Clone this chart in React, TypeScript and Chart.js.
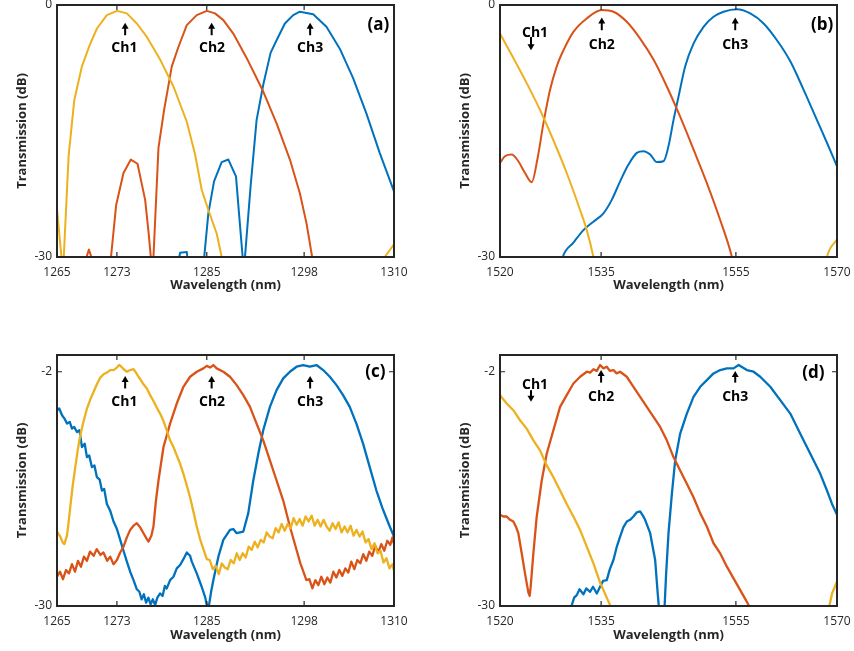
import React, { useEffect, useRef } from "react";
import { Chart, registerables } from "chart.js";

Chart.register(...registerables);

const FONT = "'Open Sans', 'Liberation Sans', Arial, sans-serif";
const YELLOW = "#EDB120";
const RED = "#D95319";
const BLUE = "#0072BD";
const INK = "#262626";

// ---------- Panel (a): O-band, simulated ----------
const aTicksX = [1265, 1273, 1285, 1298, 1310];
const aTicksY = [-30, 0];
const aCh1Wl = [1265.0, 1265.7, 1265.85, 1266.55, 1267.31, 1268.33, 1269.35, 1270.33, 1271.66, 1273.0, 1274.33, 1275.66, 1277.0, 1278.77, 1280.55, 1282.33, 1283.44, 1284.32, 1285.21, 1286.32, 1286.99, 1287.3, 1298, 1308.5, 1308.76, 1310];
const aCh1Db = [-24.3, -31, -31, -18, -11.3, -7.3, -4.8, -2.8, -1.2, -0.7, -1.0, -2.2, -3.8, -6.5, -9.7, -13.9, -17.8, -22, -24.4, -27.2, -30, -31.5, null, -31.5, -30, -28.5];
const aCh2Wl = [1268.6, 1269.26, 1269.95, 1271, 1272.1, 1272.9, 1273.88, 1274.86, 1275.75, 1276.77, 1277.22, 1277.53, 1277.7, 1277.88, 1278.55, 1279.3, 1280.33, 1281.21, 1282.33, 1283.66, 1285.0, 1286.1, 1287.21, 1288.54, 1290.32, 1292.54, 1294.32, 1296.1, 1297.43, 1298.32, 1299.07, 1299.3];
const aCh2Db = [-31, -29.1, -31, null, -31, -23.8, -20, -18.4, -18.9, -23.2, -27, -30, -32, -30, -17, -12.5, -7.3, -5, -2.4, -1.2, -0.7, -1.0, -1.8, -3.4, -6.3, -10.3, -14.1, -18.4, -22.4, -26, -30, -31.5];
const aCh3Wl = [1281.1, 1281.44, 1282.33, 1282.5, 1283.5, 1284.55, 1285.21, 1285.97, 1286.99, 1287.88, 1288.9, 1289.34, 1289.79, 1289.95, 1290.1, 1290.85, 1291.65, 1292.54, 1293.52, 1294.32, 1295.43, 1296.54, 1297.43, 1299.21, 1300.98, 1302.76, 1304.54, 1306.31, 1308.09, 1310];
const aCh3Db = [-31, -29.5, -29.4, -31, null, -31, -24.8, -21, -18.7, -18.4, -20.4, -25.2, -30, -32, -30, -21.6, -13.7, -9.5, -5.7, -4.2, -2.2, -1.2, -0.8, -1.1, -2.6, -5.2, -8.7, -12.9, -17.6, -22.2];
const aArrowWl = [1274.1, 1285.65, 1298.8];
const aArrowTip = [-2.1, -2.1, -2.1];
const aArrowTail = [-3.6, -3.6, -3.6];
const aTextWl = [1274.0, 1285.7, 1298.8];
const aTextDb = [-5.1, -5.1, -5.1];

// ---------- Panel (b): C-band, simulated ----------
const bTicksX = [1520, 1535, 1555, 1570];
const bTicksY = [-30, 0];
const bCh1Wl = [1520, 1521.98, 1523.96, 1525.94, 1527.92, 1529.9, 1531.88, 1532.87, 1533.86, 1534.2, 1550, 1568.2, 1568.51, 1570];
const bCh1Db = [-3.4, -6.3, -9.3, -12.5, -16.1, -20, -24.4, -26.8, -30, -31.5, null, -31.5, -30, -27.9];
const bCh2Wl = [1520, 1520.74, 1521.73, 1522.72, 1523.71, 1524.7, 1525.54, 1526.44, 1527.43, 1528.42, 1529.41, 1530.89, 1532.87, 1535.1, 1536.83, 1538.81, 1540.79, 1542.77, 1544.75, 1546.73, 1548.71, 1550.69, 1552.67, 1554.41, 1554.8];
const bCh2Db = [-18.8, -18.0, -17.8, -18.6, -20.0, -21.1, -18.4, -14.1, -10.1, -7.3, -5.4, -3.2, -1.6, -0.6, -0.8, -2.0, -4.0, -6.5, -9.7, -13.3, -17.2, -21.2, -25.6, -30, -31.5];
const bCh3Wl = [1528.9, 1529.31, 1530.89, 1532.38, 1533.86, 1535.35, 1536.58, 1537.82, 1539.06, 1540.3, 1541.29, 1542.28, 1543.27, 1544.26, 1545.0, 1545.74, 1546.49, 1547.48, 1548.71, 1550.2, 1551.68, 1553.17, 1555.15, 1557.13, 1559.11, 1561.09, 1563.07, 1565.05, 1567.03, 1568.51, 1570];
const bCh3Db = [-31.5, -30, -28.3, -26.8, -25.8, -24.8, -23.2, -21, -19, -17.6, -17.4, -17.8, -18.7, -18.6, -16.8, -13.7, -10.9, -7.3, -4.6, -2.6, -1.4, -0.8, -0.5, -1.0, -2.2, -4.2, -6.7, -10.1, -13.7, -16.4, -19.2];
const bArrowWl = [1524.6, 1535.1, 1554.9];
const bArrowTip = [-5.4, -1.5, -1.5];
const bArrowTail = [-3.8, -3.0, -3.0];
const bTextWl = [1525.2, 1535.1, 1554.9];
const bTextDb = [-3.3, -4.8, -4.8];

// ---------- Panel (c): O-band, measured ----------
const cTicksX = [1265, 1273, 1285, 1298, 1310];
const cTicksY = [-30, -2];
const cCh1Wl = [1265.0, 1265.44, 1265.75, 1265.98, 1266.15, 1266.33, 1266.55, 1266.78, 1267.1, 1267.44, 1267.8, 1268.11, 1268.5, 1269.0, 1269.45, 1269.89, 1270.33, 1270.78, 1271.22, 1271.66, 1272.1, 1272.55, 1273.0, 1273.3, 1273.6, 1273.9, 1274.33, 1274.77, 1275.22, 1275.55, 1275.88, 1276.2, 1276.55, 1277.0, 1277.44, 1277.88, 1278.33, 1278.77, 1279.22, 1279.66, 1280.1, 1280.55, 1280.99, 1281.44, 1281.88, 1282.33, 1282.77, 1283.21, 1283.66, 1284.1, 1284.55, 1285.0,
  1285.4, 1285.8, 1286.2, 1286.6, 1287.0, 1287.4, 1287.8, 1288.2, 1288.6, 1289.0, 1289.4, 1289.8, 1290.2, 1290.6, 1291.0, 1291.4, 1291.8, 1292.2, 1292.6, 1293.0, 1293.4, 1293.8, 1294.2, 1294.6, 1295.0, 1295.4, 1295.8, 1296.2, 1296.6, 1297.0, 1297.4, 1297.8, 1298.2, 1298.6, 1299.0, 1299.4, 1299.8, 1300.2, 1300.6, 1301.0, 1301.4, 1301.8, 1302.2, 1302.6, 1303.0, 1303.4, 1303.8, 1304.2, 1304.6, 1305.0, 1305.4, 1305.8, 1306.2, 1306.6, 1307.0, 1307.4, 1307.8, 1308.2, 1308.6, 1309.0, 1309.4, 1309.8, 1310.0];
const cCh1Db = [-21.1, -21.7, -22.4, -22.6, -22.1, -21.6, -20.0, -18.1, -15.6, -13.4, -11.2, -9.6, -8.1, -6.4, -5.3, -4.4, -3.5, -2.7, -2.3, -2.1, -1.8, -1.8, -1.5, -1.2, -1.4, -1.7, -2.0, -1.8, -1.7, -2.1, -2.6, -3.0, -3.5, -4.0, -4.8, -5.5, -6.3, -7.0, -7.9, -9.0, -10.2, -11.0, -12.0, -13.0, -14.2, -15.6, -17.0, -18.7, -20.5, -22.0, -23.2, -24.4,
  -24.5, -25.6, -25.2, -26.2, -24.9, -25.4, -25.6, -24.5, -24.9, -23.7, -24.5, -23.7, -24.2, -22.9, -23.3, -22.3, -23.0, -22.1, -22.4, -21.2, -21.7, -21.9, -20.7, -21.2, -20.2, -21.0, -20.2, -20.7, -19.5, -20.3, -19.6, -20.4, -19.3, -19.9, -19.2, -20.4, -19.7, -20.5, -19.7, -20.5, -21.0, -20.1, -20.8, -20.0, -21.2, -20.5, -21.2, -20.4, -21.6, -20.9, -21.7, -21.1, -22.4, -22.0, -23.2, -22.5, -23.7, -23.4, -24.8, -24.3, -25.5, -25.0, -25.8];
const cCh2Wl = [1265.0, 1265.4, 1265.8, 1266.2, 1266.6, 1267.0, 1267.4, 1267.8, 1268.2, 1268.6, 1269.0, 1269.4, 1269.9, 1270.3, 1270.8, 1271.2, 1271.7, 1272.1, 1272.55, 1273.0, 1273.44, 1273.88, 1274.33, 1274.77, 1275.22, 1275.66, 1276.11, 1276.55, 1277.0, 1277.22, 1277.6, 1277.88, 1278.2, 1278.55, 1279.22, 1280.1, 1280.99, 1281.88, 1282.77, 1283.66, 1284.55, 1285.0, 1285.44, 1285.88, 1286.32, 1287.21, 1288.1, 1288.99, 1289.88, 1290.77, 1291.65, 1292.54, 1293.43, 1294.32, 1295.21, 1296.1, 1296.99, 1297.5,
  1297.9, 1298.3, 1298.7, 1299.1, 1299.5, 1299.9, 1300.3, 1300.7, 1301.1, 1301.5, 1301.9, 1302.3, 1302.7, 1303.1, 1303.5, 1303.9, 1304.3, 1304.7, 1305.1, 1305.5, 1305.9, 1306.3, 1306.7, 1307.1, 1307.5, 1307.9, 1308.3, 1308.7, 1309.1, 1309.5, 1309.8, 1310.0];
const cCh2Db = [-26.5, -25.9, -26.8, -25.7, -26.1, -25.0, -25.9, -24.6, -25.3, -24.1, -24.6, -23.5, -24.0, -23.2, -23.9, -23.6, -24.6, -24.1, -25.0, -24.5, -23.6, -22.9, -21.8, -20.9, -20.4, -20.1, -20.6, -21.3, -22.0, -22.3, -21.6, -20.5, -17.5, -15.0, -11.0, -8.2, -5.8, -3.8, -2.6, -2.0, -1.6, -1.3, -1.5, -1.2, -1.6, -2.0, -2.6, -3.6, -4.8, -6.2, -8.2, -10.2, -12.6, -15.0, -17.4, -20.5, -23.3, -24.9,
  -25.9, -26.9, -26.8, -27.9, -26.9, -27.5, -26.5, -27.4, -26.6, -27.2, -25.9, -26.6, -25.7, -26.4, -25.5, -26.0, -24.7, -25.6, -24.5, -24.9, -23.8, -24.6, -23.5, -24.0, -22.8, -23.6, -22.6, -23.4, -22.2, -22.7, -21.8, -22.6];
const cCh3Wl = [1265.0, 1265.3, 1265.67, 1266.0, 1266.33, 1266.7, 1267.0, 1267.3, 1267.67, 1268.0, 1268.33, 1268.7, 1269.0, 1269.3, 1269.66, 1270.0, 1270.33, 1270.7, 1271.0, 1271.3, 1271.66, 1272.1, 1272.55, 1273.0, 1273.44, 1273.88, 1274.33, 1274.77, 1275.22, 1275.66, 1276.0, 1276.3, 1276.6, 1276.9, 1277.2, 1277.5, 1277.8, 1278.1, 1278.4, 1278.77, 1279.1, 1279.4, 1279.66, 1280.1, 1280.55, 1280.99, 1281.44, 1281.88, 1282.33, 1282.77, 1283.0, 1283.66, 1284.32, 1284.8, 1285.0, 1285.3, 1285.6, 1285.88, 1286.55, 1287.21, 1288.1, 1288.54, 1288.99, 1289.88, 1290.54, 1291.21, 1291.88, 1292.54, 1293.43, 1294.32, 1295.21, 1296.1, 1296.99, 1297.87, 1298.76, 1299.65, 1300.54, 1301.43, 1302.32, 1303.2, 1304.09, 1304.98, 1305.87, 1306.76, 1307.65, 1308.54, 1309.43, 1310.0];
const cCh3Db = [-6.6, -6.4, -7.2, -7.6, -8.2, -8.0, -8.8, -8.6, -9.2, -9.0, -11.0, -10.6, -12.2, -12.0, -13.4, -13.2, -14.6, -14.9, -16.2, -16.0, -17.8, -18.6, -19.9, -20.8, -22.1, -23.4, -24.7, -25.9, -26.9, -28.0, -28.3, -29.2, -28.6, -29.6, -29.0, -29.8, -29.2, -29.9, -29.0, -28.5, -28.8, -27.6, -27.9, -26.9, -26.5, -25.5, -25.1, -24.4, -23.6, -24.0, -24.7, -26.1, -27.7, -29.0, -29.9, -29.9, -28.2, -26.9, -24.1, -22.1, -20.9, -20.8, -21.3, -21.1, -18.9, -15.0, -11.8, -9.0, -6.2, -4.2, -2.8, -2.0, -1.4, -1.2, -1.4, -1.2, -1.8, -2.6, -3.6, -4.8, -6.2, -8.2, -10.6, -13.4, -16.2, -18.5, -20.5, -21.7];
const cArrowWl = [1274.1, 1285.65, 1298.8];
const cArrowTip = [-2.5, -2.5, -2.5];
const cArrowTail = [-4.0, -4.0, -4.0];
const cTextWl = [1274.0, 1285.7, 1298.8];
const cTextDb = [-5.6, -5.6, -5.6];

// ---------- Panel (d): C-band, measured ----------
const dTicksX = [1520, 1535, 1555, 1570];
const dTicksY = [-30, -2];
const dCh1Wl = [1520.0, 1520.99, 1521.98, 1522.97, 1523.96, 1524.95, 1525.94, 1526.93, 1527.92, 1528.91, 1529.9, 1530.89, 1531.88, 1532.87, 1533.86, 1534.85, 1535.84, 1536.6, 1550, 1568.76, 1569.26, 1570.0];
const dCh1Db = [-4.8, -5.8, -6.6, -7.8, -8.8, -10.2, -11.4, -13.2, -14.6, -16.2, -17.8, -19.3, -20.9, -22.9, -24.9, -27.2, -29.0, -30.4, null, -30.4, -28.5, -27.1];
const dCh2Wl = [1520.0, 1520.5, 1520.99, 1521.5, 1521.98, 1522.4, 1522.72, 1523.22, 1523.71, 1524.21, 1524.4, 1524.55, 1524.95, 1525.45, 1526.19, 1526.93, 1527.92, 1528.91, 1529.9, 1530.89, 1531.88, 1532.87, 1533.37, 1533.86, 1534.36, 1534.85, 1535.35, 1535.84, 1536.3, 1536.83, 1537.3, 1537.82, 1538.81, 1539.8, 1540.79, 1541.78, 1542.77, 1543.76, 1544.75, 1545.74, 1546.73, 1547.72, 1548.71, 1549.7, 1550.69, 1551.68, 1552.67, 1553.66, 1554.65, 1555.64, 1556.63, 1557.13];
const dCh2Db = [-19.1, -19.3, -19.3, -19.7, -19.9, -20.6, -21.3, -23.7, -26.1, -28.4, -28.8, -27.7, -23.7, -19.3, -15.0, -11.8, -9.0, -6.2, -4.8, -3.4, -2.6, -2.0, -2.1, -1.7, -1.9, -1.2, -1.6, -1.4, -1.9, -1.8, -2.2, -2.0, -2.6, -3.8, -5.0, -6.2, -7.4, -8.6, -10.2, -12.2, -13.8, -15.4, -17.0, -18.9, -20.5, -22.5, -23.7, -25.3, -26.7, -28.1, -29.5, -30.3];
const dCh3Wl = [1530.5, 1531.0, 1531.39, 1531.8, 1532.38, 1532.8, 1533.37, 1533.8, 1534.36, 1534.85, 1535.3, 1535.84, 1536.3, 1536.83, 1537.3, 1537.82, 1538.3, 1538.81, 1539.3, 1539.8, 1540.3, 1540.79, 1541.2, 1541.53, 1542.28, 1543.02, 1543.4, 1543.6, 1544.0, 1544.4, 1544.65, 1545.0, 1545.5, 1545.99, 1546.73, 1547.72, 1548.71, 1549.7, 1550.69, 1551.68, 1552.67, 1553.66, 1554.65, 1555.4, 1556.63, 1557.62, 1558.61, 1560.1, 1561.58, 1563.07, 1564.55, 1566.04, 1567.52, 1568.51, 1569.26, 1570.0];
const dCh3Db = [-30.3, -29.0, -28.7, -28.0, -28.6, -27.9, -28.3, -27.7, -28.5, -27.7, -27.0, -26.9, -25.6, -24.5, -23.0, -21.7, -20.6, -19.9, -19.7, -19.3, -18.8, -18.7, -19.2, -19.7, -21.3, -24.5, -28.5, -30.4, null, -30.4, -26.1, -21.3, -16.6, -12.6, -9.4, -7.0, -5.0, -3.8, -3.0, -2.2, -1.8, -1.6, -1.6, -1.2, -1.8, -2.0, -2.6, -3.8, -5.4, -7.0, -9.4, -11.8, -14.2, -16.2, -17.8, -19.1];
const dArrowWl = [1524.6, 1535.0, 1554.9];
const dArrowTip = [-5.6, -1.8, -1.9];
const dArrowTail = [-4.2, -3.3, -3.3];
const dTextWl = [1525.2, 1535.0, 1554.9];
const dTextDb = [-3.6, -5.0, -5.0];

const chNames = ["Ch1", "Ch2", "Ch3"];

type Series = { wl: number[]; db: (number | null)[]; color: string };
type Ann = { arrowWl: number[]; tipDb: number[]; tailDb: number[]; textWl: number[]; textDb: number[] };
type PanelCfg = {
  left: number; top: number; width: number; height: number;
  padTop: number; padRight: number; yAxisW: number; xAxisH: number; titlePadBottom: number;
  xMin: number; xMax: number; xTicks: number[]; yTicks: number[];
  series: Series[]; smooth: boolean; lineW: number; ann: Ann;
  label: string; labelWl: number; labelDb: number;
};

const panels: PanelCfg[] = [
  {
    left: 0, top: 0, width: 427, height: 300, padTop: 5, padRight: 33, yAxisW: 57, xAxisH: 43, titlePadBottom: 7,
    xMin: 1265, xMax: 1310, xTicks: aTicksX, yTicks: aTicksY, smooth: false, lineW: 2,
    series: [{ wl: aCh1Wl, db: aCh1Db, color: YELLOW }, { wl: aCh2Wl, db: aCh2Db, color: RED }, { wl: aCh3Wl, db: aCh3Db, color: BLUE }],
    ann: { arrowWl: aArrowWl, tipDb: aArrowTip, tailDb: aArrowTail, textWl: aTextWl, textDb: aTextDb },
    label: "(a)", labelWl: 1307.9, labelDb: -2.4,
  },
  {
    left: 443, top: 0, width: 411, height: 300, padTop: 5, padRight: 17, yAxisW: 57, xAxisH: 43, titlePadBottom: 7,
    xMin: 1520, xMax: 1570, xTicks: bTicksX, yTicks: bTicksY, smooth: true, lineW: 2,
    series: [{ wl: bCh1Wl, db: bCh1Db, color: YELLOW }, { wl: bCh2Wl, db: bCh2Db, color: RED }, { wl: bCh3Wl, db: bCh3Db, color: BLUE }],
    ann: { arrowWl: bArrowWl, tipDb: bArrowTip, tailDb: bArrowTail, textWl: bTextWl, textDb: bTextDb },
    label: "(b)", labelWl: 1567.8, labelDb: -2.4,
  },
  {
    left: 0, top: 340, width: 427, height: 311, padTop: 15, padRight: 33, yAxisW: 57, xAxisH: 45, titlePadBottom: 8,
    xMin: 1265, xMax: 1310, xTicks: cTicksX, yTicks: cTicksY, smooth: false, lineW: 2.3,
    series: [{ wl: cCh1Wl, db: cCh1Db, color: YELLOW }, { wl: cCh2Wl, db: cCh2Db, color: RED }, { wl: cCh3Wl, db: cCh3Db, color: BLUE }],
    ann: { arrowWl: cArrowWl, tipDb: cArrowTip, tailDb: cArrowTail, textWl: cTextWl, textDb: cTextDb },
    label: "(c)", labelWl: 1307.5, labelDb: -2.05,
  },
  {
    left: 443, top: 340, width: 411, height: 311, padTop: 15, padRight: 17, yAxisW: 57, xAxisH: 45, titlePadBottom: 8,
    xMin: 1520, xMax: 1570, xTicks: dTicksX, yTicks: dTicksY, smooth: false, lineW: 2.3,
    series: [{ wl: dCh1Wl, db: dCh1Db, color: YELLOW }, { wl: dCh2Wl, db: dCh2Db, color: RED }, { wl: dCh3Wl, db: dCh3Db, color: BLUE }],
    ann: { arrowWl: dArrowWl, tipDb: dArrowTip, tailDb: dArrowTail, textWl: dTextWl, textDb: dTextDb },
    label: "(d)", labelWl: 1566.5, labelDb: -2.15,
  },
];

function Panel({ cfg }: { cfg: PanelCfg }) {
  const ref = useRef<HTMLCanvasElement>(null);
  useEffect(() => {
    const canvas = ref.current!;
    const decor = {
      id: "decor",
      afterDatasetsDraw(chart: any) {
        const { ctx, chartArea: a } = chart;
        const xs = chart.scales.x;
        const ys = chart.scales.y;
        ctx.save();
        ctx.strokeStyle = INK;
        ctx.fillStyle = INK;
        ctx.lineWidth = 1.2;
        ctx.beginPath();
        for (const v of cfg.xTicks) {
          const px = xs.getPixelForValue(v);
          ctx.moveTo(px, a.bottom); ctx.lineTo(px, a.bottom - 5);
          ctx.moveTo(px, a.top); ctx.lineTo(px, a.top + 5);
        }
        for (const v of cfg.yTicks) {
          const py = ys.getPixelForValue(v);
          ctx.moveTo(a.left, py); ctx.lineTo(a.left + 5, py);
          ctx.moveTo(a.right, py); ctx.lineTo(a.right - 5, py);
        }
        ctx.stroke();
        ctx.lineWidth = 2;
        ctx.strokeRect(a.left, a.top, a.right - a.left, a.bottom - a.top);

        const an = cfg.ann;
        ctx.fillStyle = "#000";
        ctx.strokeStyle = "#000";
        chNames.forEach((name, i) => {
          const x = xs.getPixelForValue(an.arrowWl[i]);
          const yTip = ys.getPixelForValue(an.tipDb[i]);
          const yTail = ys.getPixelForValue(an.tailDb[i]);
          const dir = yTip < yTail ? 1 : -1;
          ctx.lineWidth = 2;
          ctx.beginPath();
          ctx.moveTo(x, yTail);
          ctx.lineTo(x, yTip + dir * 4);
          ctx.stroke();
          ctx.beginPath();
          ctx.moveTo(x, yTip);
          ctx.lineTo(x - 3.5, yTip + dir * 6);
          ctx.lineTo(x + 3.5, yTip + dir * 6);
          ctx.closePath();
          ctx.fill();
          ctx.font = `bold 14px ${FONT}`;
          ctx.textAlign = "center";
          ctx.textBaseline = "middle";
          ctx.fillText(name, xs.getPixelForValue(an.textWl[i]), ys.getPixelForValue(an.textDb[i]));
        });
        ctx.font = `bold 17px ${FONT}`;
        ctx.textAlign = "center";
        ctx.textBaseline = "middle";
        ctx.fillText(cfg.label, xs.getPixelForValue(cfg.labelWl), ys.getPixelForValue(cfg.labelDb));
        ctx.restore();
      },
    };

    const chart = new Chart(canvas, {
      type: "line",
      data: {
        datasets: cfg.series.map((s) => ({
          data: s.wl.map((x, i) => ({ x, y: s.db[i] })),
          borderColor: s.color,
          backgroundColor: s.color,
          borderWidth: cfg.lineW,
          borderJoinStyle: "round",
          pointRadius: 0,
          fill: false,
          tension: 0,
          cubicInterpolationMode: cfg.smooth ? "monotone" : "default",
          spanGaps: false,
          clip: 0,
        })) as any,
      },
      options: {
        responsive: false,
        animation: false,
        events: [],
        layout: { padding: { top: cfg.padTop, right: cfg.padRight, left: 0, bottom: 0 } },
        plugins: { legend: { display: false }, tooltip: { enabled: false } },
        scales: {
          x: {
            type: "linear",
            min: cfg.xMin,
            max: cfg.xMax,
            grid: { display: false, drawTicks: false },
            border: { display: false },
            ticks: {
              autoSkip: false, maxRotation: 0, minRotation: 0, padding: 8, color: INK,
              font: { family: FONT, size: 12 },
              callback: (v: any) => String(v),
            },
            afterBuildTicks: (s: any) => { s.ticks = cfg.xTicks.map((v) => ({ value: v })); },
            afterFit: (s: any) => { s.height = cfg.xAxisH; s.paddingLeft = 0; s.paddingRight = 0; },
            title: {
              display: true, text: "Wavelength (nm)", color: INK,
              font: { family: FONT, size: 13, weight: "bold" },
              padding: { top: 0, bottom: cfg.titlePadBottom },
            },
          },
          y: {
            type: "linear",
            min: -30,
            max: 0,
            grid: { display: false, drawTicks: false },
            border: { display: false },
            ticks: {
              autoSkip: false, padding: 5, color: INK,
              font: { family: FONT, size: 12 },
              callback: (v: any) => String(v),
            },
            afterBuildTicks: (s: any) => { s.ticks = cfg.yTicks.map((v) => ({ value: v })); },
            afterFit: (s: any) => { s.width = cfg.yAxisW; s.paddingTop = 0; s.paddingBottom = 0; },
            title: {
              display: true, text: "Transmission (dB)", color: INK,
              font: { family: FONT, size: 13, weight: "bold" },
              padding: { top: 14, bottom: 0 },
            },
          },
        },
      } as any,
      plugins: [decor],
    });
    return () => chart.destroy();
  }, [cfg]);
  return (
    <canvas
      ref={ref}
      width={cfg.width}
      height={cfg.height}
      style={{ position: "absolute", left: cfg.left, top: cfg.top, width: cfg.width, height: cfg.height }}
    />
  );
}

export default function App() {
  return (
    <div style={{ position: "absolute", left: 0, top: 0, width: 854, height: 651, background: "#fff", overflow: "hidden" }}>
      {panels.map((p) => (
        <Panel key={p.label} cfg={p} />
      ))}
    </div>
  );
}
